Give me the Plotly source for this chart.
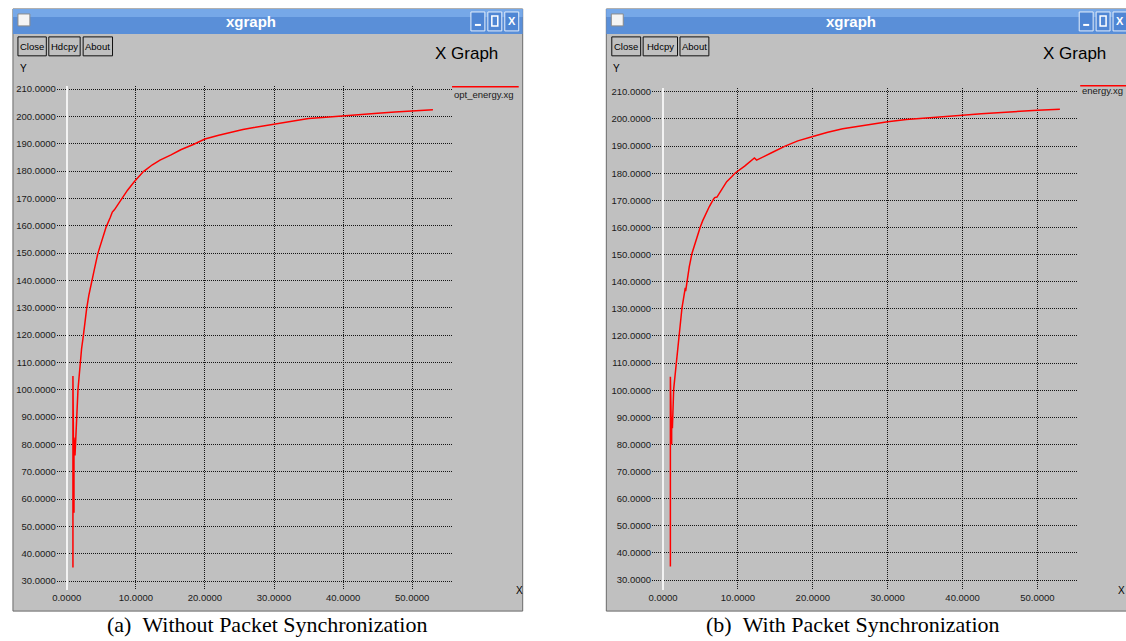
import plotly.graph_objects as go

W, H = 1126, 641

# Residual energy over time, without packet synchronization (opt_energy.xg)
t_without = [0.9, 0.9, 1.05, 1.05, 1.2, 1.3, 1.5, 1.63, 1.8, 1.95,
             2.15, 2.4, 2.65, 2.88, 3.2, 3.6, 4.0, 4.5, 5.0, 5.7,
             6.3, 6.6, 6.9, 7.4, 7.9, 8.8, 9.8, 10.4, 11.1, 12.4,
             13.5, 15.1, 16.5, 18.4, 20.0, 22.0, 23.7, 25.5, 27.1, 30.0,
             32.5, 35.0, 37.5, 40.0, 42.5, 45.0, 47.5, 50.0, 53.0]
e_without = [35.0, 105.0, 55.0, 82.5, 76.0, 83.0, 94.7, 100.0, 105.0, 110.0,
             115.0, 119.6, 125.0, 129.6, 134.5, 139.7, 144.0, 149.8, 154.0, 159.5,
             163.0, 165.0, 165.8, 167.8, 169.7, 173.0, 176.2, 178.0, 179.8, 182.3,
             184.0, 185.9, 187.8, 189.8, 191.7, 193.1, 194.2, 195.2, 195.9, 197.1,
             198.2, 199.2, 199.7, 200.1, 200.6, 201.1, 201.6, 202.0, 202.4]

# Residual energy over time, with packet synchronization (energy.xg)
t_with = [0.98, 0.98, 1.15, 1.15, 1.25, 1.42, 1.77, 2.08, 2.3, 2.53,
          2.75, 2.97, 3.02, 3.19, 3.5, 3.86, 4.4, 4.96, 5.3, 5.63,
          6.2, 6.74, 6.9, 7.2, 7.8, 8.5, 9.2, 9.6, 10.9, 12.2,
          12.5, 13.5, 14.7, 16.3, 18.0, 20.0, 22.0, 24.0, 27.0, 30.0,
          32.5, 35.0, 37.5, 40.0, 42.5, 45.0, 47.5, 50.0, 53.0]
e_with = [35.0, 105.0, 80.0, 90.0, 86.0, 100.4, 110.2, 120.2, 125.0, 130.4,
          134.0, 137.7, 136.5, 140.4, 145.5, 150.4, 155.5, 160.1, 162.5, 164.7,
          167.8, 170.4, 171.0, 171.2, 174.0, 176.9, 178.8, 180.0, 182.6, 185.6,
          184.8, 186.3, 187.8, 190.0, 191.9, 193.5, 195.1, 196.4, 197.8, 199.0,
          199.8, 200.4, 200.9, 201.4, 201.9, 202.4, 202.8, 203.2, 203.6]

y_ticks = [30, 40, 50, 60, 70, 80, 90, 100, 110, 120, 130, 140, 150, 160, 170,
           180, 190, 200, 210]
x_ticks = [0, 10, 20, 30, 40, 50]

captions = ["(a)\u00a0\u00a0Without Packet Synchronization",
            "(b)\u00a0\u00a0With Packet Synchronization"]
legend_names = ["opt_energy.xg", "energy.xg"]

GRAY = "#c0c0c0"
TICK_FONT = dict(family="Liberation Sans, Arial, sans-serif", size=9.5, color="#1a1a1a")


def px(x):
    return x / W


def py(y):
    return 1 - y / H


shapes = []
annotations = []


def rect(x0, y0, x1, y1, fill, line=None, lw=1):
    shapes.append(dict(type="rect", xref="paper", yref="paper",
                       x0=px(x0), x1=px(x1), y0=py(y1), y1=py(y0),
                       fillcolor=fill,
                       line=dict(color=line if line else fill, width=lw if line else 0),
                       layer="below"))


def hline(x0, x1, y, color, lw=1, layer="above"):
    shapes.append(dict(type="line", xref="paper", yref="paper",
                       x0=px(x0), x1=px(x1), y0=py(y), y1=py(y),
                       line=dict(color=color, width=lw), layer=layer))


def text(x, y, s, size=10, color="#000", family="Liberation Sans, Arial, sans-serif",
         xanchor="center", bold=False):
    if bold:
        s = "<b>" + s + "</b>"
    annotations.append(dict(x=px(x), y=py(y), xref="paper", yref="paper", text=s,
                            showarrow=False, xanchor=xanchor, yanchor="middle",
                            font=dict(size=size, color=color, family=family)))


def window(x0, x1, title_cx, btn_x, xg_cx, buttons):
    # window body and frame
    rect(x0, 7, x1, 611, GRAY, "#6a6a6a", 1)
    # title bar
    rect(x0, 7, x1, 32, "#5a8fd8")
    rect(x0, 7, x1, 15, "#76a8e8")
    rect(x0 + 5, 12, x0 + 17, 24, "#f4f4f4", "#8a8a8a", 1)
    text(title_cx, 19.5, "xgraph", size=15, color="#ffffff", bold=True)
    # title bar controls
    for i, kind in enumerate(["min", "max", "close"]):
        bx = btn_x + i * 17
        rect(bx, 10, bx + 14, 29, "#4f86d4", "#e4eefb", 1)
        if kind == "min":
            rect(bx + 4, 22, bx + 10, 24, "#ffffff")
        elif kind == "max":
            rect(bx + 4, 14, bx + 10, 24, "rgba(0,0,0,0)", "#ffffff", 1.5)
        else:
            text(bx + 7, 19, "X", size=11, color="#ffffff", bold=True)
    # Close / Hdcpy / About buttons
    for (bx0, bx1, label) in buttons:
        rect(bx0, 35, bx1, 54, GRAY, "#101010", 1)
        text((bx0 + bx1) / 2, 44.5, label, size=9.5, color="#000")
    text(xg_cx, 52, "X Graph", size=17, color="#000")


# left window
window(8, 520, 247, 468, 464,
       [(13, 41.5, "Close"), (44, 75.5, "Hdcpy"), (78.5, 108, "About")])
# right window (continues past the right edge)
window(604, 1140, 850, 1079, 1074,
       [(609.5, 638.5, "Close"), (641, 675.5, "Hdcpy"), (678, 707, "About")])

# axis labels
text(13, 67, "Y", size=10, xanchor="left")
text(609, 67, "Y", size=10, xanchor="left")
text(511, 590, "X", size=10, xanchor="left")
text(1116, 590, "X", size=10, xanchor="left")

# legend keys
hline(449, 516, 85, "#ff0000", 1.5)
text(449, 93, legend_names[0], size=9.5, xanchor="left", color="#1a1a1a")
hline(1080, 1130, 84, "#ff0000", 1.5)
text(1080, 89, legend_names[1], size=9.5, xanchor="left", color="#1a1a1a")

# captions below the windows
text(263, 624, captions[0], size=22, family="Liberation Serif, Times New Roman, serif")
text(852, 624, captions[1], size=22, family="Liberation Serif, Times New Roman, serif")

fig = go.Figure()
fig.add_trace(go.Scatter(x=t_without, y=e_without, mode="lines",
                         line=dict(color="#ff0000", width=1.5),
                         xaxis="x", yaxis="y", showlegend=False))
fig.add_trace(go.Scatter(x=t_with, y=e_with, mode="lines",
                         line=dict(color="#ff0000", width=1.5),
                         xaxis="x2", yaxis="y2", showlegend=False))

grid = dict(showgrid=True, gridcolor="#151515", gridwidth=1, griddash="1px,1px",
            showline=False, ticks="", tickfont=TICK_FONT, tickformat=".4f")

fig.update_layout(
    width=W, height=H,
    margin=dict(l=0, r=0, t=0, b=0),
    paper_bgcolor="#ffffff",
    plot_bgcolor="rgba(0,0,0,0)",
    shapes=shapes,
    annotations=annotations,
    xaxis=dict(domain=[px(52), px(449)], range=[-1.44, 55.76], anchor="y",
               tickvals=x_ticks, zeroline=True, zerolinecolor="#f2f2f2",
               zerolinewidth=2, **grid),
    yaxis=dict(domain=[py(590), py(84)], range=[26.7, 211.2], anchor="x",
               tickvals=y_ticks, zeroline=False, **grid),
    xaxis2=dict(domain=[px(650), px(1078)], range=[-1.46, 55.45], anchor="y2",
                tickvals=x_ticks, zeroline=True, zerolinecolor="#f2f2f2",
                zerolinewidth=2, **grid),
    yaxis2=dict(domain=[py(590), py(86)], range=[26.3, 211.5], anchor="x2",
                tickvals=y_ticks, zeroline=False, **grid),
)

fig.write_html("out.html")
